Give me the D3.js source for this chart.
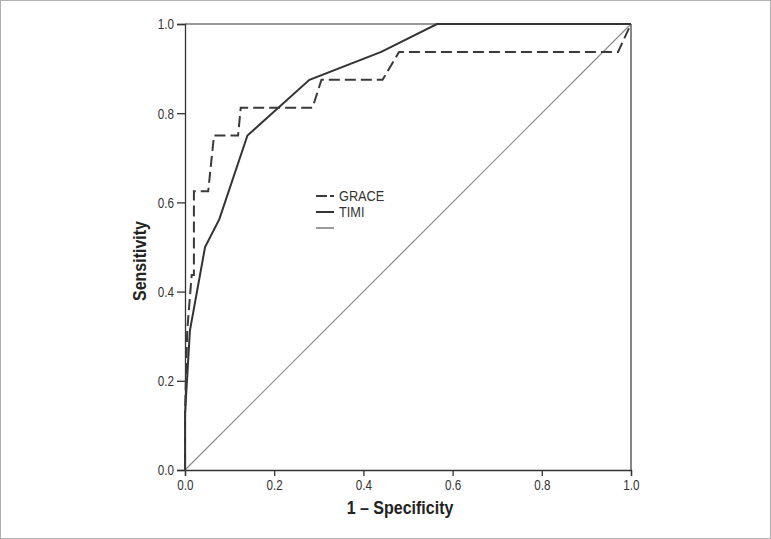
<!DOCTYPE html>
<html>
<head>
  <meta charset="utf-8">
  <title>ROC curves GRACE vs TIMI</title>
  <style>
    body{
      margin: 0;
      padding: 0;
      background-color: #fff;
    }
    .chart{
      display: block;
      font-family: "Liberation Sans Narrow", "Arial Narrow", "Liberation Sans", sans-serif;
    }
    .axis path, .axis line{
      stroke: #333;
      stroke-width: 1.3;
    }
    .axis text{
      font-size: 15px;
      fill: #333;
    }
  </style>
</head>
<body>
<svg class="chart"></svg>
<script src="https://d3js.org/d3.v7.min.js"></script>
<script>

// 1 - specificity / sensitivity pairs
var graceX = [0, 0, 0.005, 0.015, 0.02, 0.02, 0.052, 0.065, 0.119, 0.125, 0.286, 0.306, 0.443, 0.48, 0.971, 1];
var graceY = [0, 0.125, 0.3125, 0.4375, 0.4375, 0.625, 0.625, 0.75, 0.75, 0.8125, 0.8125, 0.875, 0.875, 0.9375, 0.9375, 1];

var timiX = [0, 0, 0.011, 0.045, 0.077, 0.14, 0.279, 0.44, 0.565, 1];
var timiY = [0, 0.125, 0.3125, 0.5, 0.5625, 0.75, 0.875, 0.9375, 1, 1];

var refX = [0, 1];
var refY = [0, 1];

var ticks = [0, 0.2, 0.4, 0.6, 0.8, 1.0];
var legendLabels = ["GRACE", "TIMI", ""];

var W = 771, H = 539;
var margin = {top: 24, right: 140, bottom: 69, left: 185},
    width = W - margin.left - margin.right,
    height = H - margin.top - margin.bottom;

var svg = d3.select(".chart")
    .attr("width", W)
    .attr("height", H);

// outer frame of the figure
svg.append("rect")
    .attr("x", 0.5).attr("y", 0.5)
    .attr("width", W - 1).attr("height", H - 1)
    .attr("fill", "none")
    .attr("stroke", "#b0b0b0");

var g = svg.append("g")
    .attr("transform", "translate(" + margin.left + "," + margin.top + ")");

var x = d3.scaleLinear().domain([0, 1]).range([0, width]);
var y = d3.scaleLinear().domain([0, 1]).range([height, 0]);

// plot frame: top gray, right dark
g.append("line")
    .attr("x1", x(0)).attr("x2", x(1))
    .attr("y1", y(1)).attr("y2", y(1))
    .attr("stroke", "#9a9a9a").attr("stroke-width", 2);
g.append("line")
    .attr("x1", x(1)).attr("x2", x(1))
    .attr("y1", y(1)).attr("y2", y(0))
    .attr("stroke", "#444").attr("stroke-width", 1.3);

var xAxis = g.append("g")
    .attr("class", "axis")
    .attr("transform", "translate(0," + height + ")")
    .call(d3.axisBottom(x).tickValues(ticks).tickFormat(d3.format(".1f")).tickSizeOuter(0).tickSize(6).tickPadding(3));
xAxis.selectAll("text").attr("transform", "scale(0.78,1)");

var yAxis = g.append("g")
    .attr("class", "axis")
    .call(d3.axisLeft(y).tickValues(ticks).tickFormat(d3.format(".1f")).tickSizeOuter(0).tickSize(8).tickPadding(2));
yAxis.selectAll("text").attr("x", -14).attr("transform", "scale(0.78,1)");

var line = d3.line()
    .x(function(d) { return x(d[0]); })
    .y(function(d) { return y(d[1]); });

function pairs(xs, ys) {
  return xs.map(function(v, i) { return [v, ys[i]]; });
}

// diagonal reference
g.append("path")
    .datum(pairs(refX, refY))
    .attr("d", line)
    .attr("fill", "none")
    .attr("stroke", "#8a8a8a")
    .attr("stroke-width", 1.2);

g.append("path")
    .datum(pairs(timiX, timiY))
    .attr("d", line)
    .attr("fill", "none")
    .attr("stroke", "#333")
    .attr("stroke-width", 2);

g.append("path")
    .datum(pairs(graceX, graceY))
    .attr("d", line)
    .attr("fill", "none")
    .attr("stroke", "#3a3a3a")
    .attr("stroke-width", 2)
    .attr("stroke-dasharray", "11,5");

// axis titles
svg.append("text")
    .attr("transform", "translate(400,514) scale(0.89,1)")
    .attr("text-anchor", "middle")
    .style("font-size", "18px")
    .style("font-weight", "bold")
    .style("fill", "#222")
    .text("1 \u2013 Specificity");

svg.append("text")
    .attr("transform", "translate(146,261) rotate(-90) scale(0.89,1)")
    .attr("text-anchor", "middle")
    .style("font-size", "18px")
    .style("font-weight", "bold")
    .style("fill", "#222")
    .text("Sensitivity");

// legend
var legend = svg.append("g").attr("transform", "translate(316,196)");
var styles = [
  {stroke: "#3a3a3a", dash: "11,3,4,3"},
  {stroke: "#333", dash: null},
  {stroke: "#9a9a9a", dash: null}
];
legendLabels.forEach(function(lbl, i) {
  var row = legend.append("g").attr("transform", "translate(0," + (i * 16) + ")");
  row.append("line")
      .attr("x1", 0).attr("x2", 18)
      .attr("y1", 0).attr("y2", 0)
      .attr("stroke", styles[i].stroke)
      .attr("stroke-width", 2)
      .attr("stroke-dasharray", styles[i].dash);
  row.append("text")
      .attr("transform", "translate(23,5) scale(0.85,1)")
      .style("font-size", "15px")
      .style("fill", "#333")
      .text(lbl);
});

</script>
</body>
</html>
